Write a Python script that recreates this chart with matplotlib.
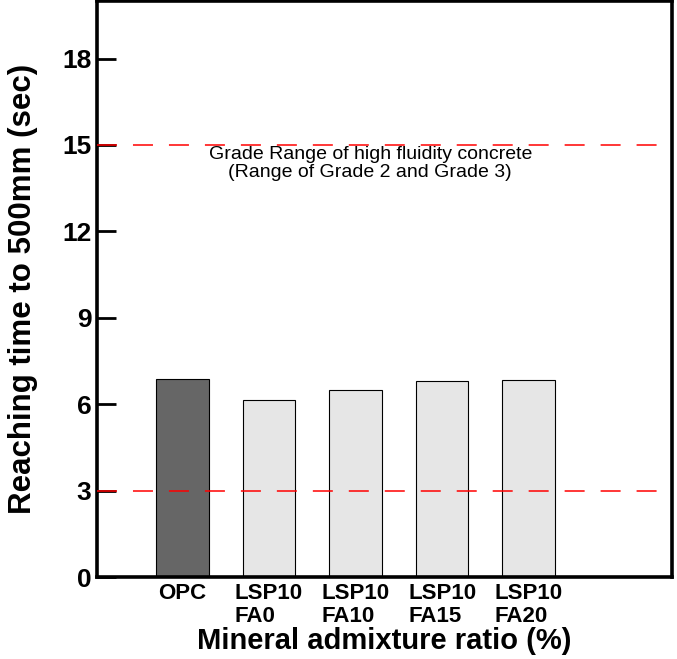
import matplotlib
matplotlib.use('Agg')
import matplotlib.pyplot as plt

# data
categories = ['OPC', 'LSP10\nFA0', 'LSP10\nFA10', 'LSP10\nFA15', 'LSP10\nFA20']
reach_time = [6.88, 6.15, 6.5, 6.82, 6.85]
bar_colors = ['#666666', '#e6e6e6', '#e6e6e6', '#e6e6e6', '#e6e6e6']
grade_limits = [3, 15]
y_ticks = [0, 3, 6, 9, 12, 15, 18]

plt.rcParams['font.family'] = ['Liberation Sans', 'DejaVu Sans']
plt.rcParams['lines.scale_dashes'] = False

fig = plt.figure(figsize=(6.77, 6.59), dpi=100)
ax = fig.add_axes([0.1433, 0.1244, 0.8493, 0.8741])

x = list(range(len(categories)))
ax.bar(x, reach_time, width=0.606, color=bar_colors, edgecolor='black', linewidth=0.8, zorder=2)

# grade range lines
for g in grade_limits:
    ax.axhline(g, color='red', linewidth=1.1, dashes=(14.4, 11.5), zorder=3)

ax.text(2.17, 14.97, 'Grade Range of high fluidity concrete\n(Range of Grade 2 and Grade 3)',
        ha='center', va='top', fontsize=14, linespacing=1.05)

ax.set_xlim(-0.985, 5.655)
ax.set_ylim(0, 20)
ax.set_yticks(y_ticks)
ax.set_xticks(x)
ax.set_xticklabels(categories, fontsize=16, fontweight='bold', multialignment='left',
                   linespacing=1.18)
ax.tick_params(axis='y', direction='in', length=14, width=2, labelsize=19, pad=4)
ax.tick_params(axis='x', length=0, pad=4)
for lbl in ax.get_yticklabels():
    lbl.set_fontweight('bold')

for s in ax.spines.values():
    s.set_linewidth(2.6)

ax.set_ylabel('Reaching time to 500mm (sec)', fontsize=22.5, fontweight='bold', labelpad=17)
ax.set_xlabel('Mineral admixture ratio (%)', fontsize=21, fontweight='bold', labelpad=0)

fig.savefig('out.png', dpi=100)
